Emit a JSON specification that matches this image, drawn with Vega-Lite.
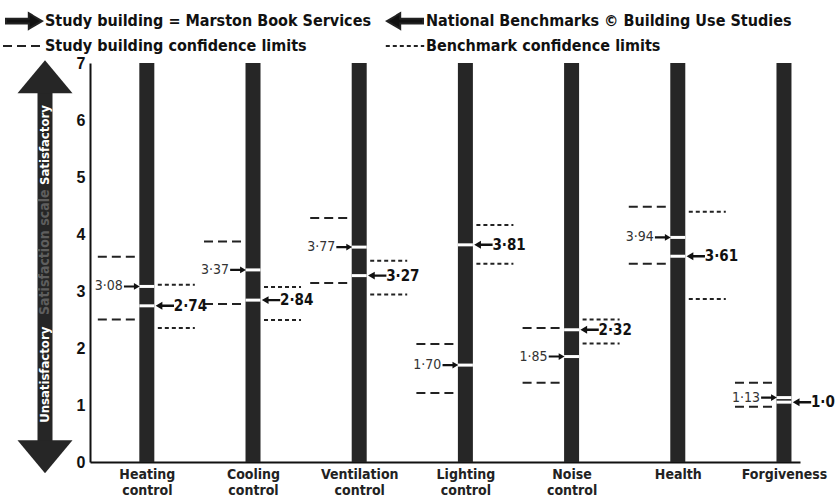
{
  "$schema": "https://vega.github.io/schema/vega-lite/v6.json",
  "background": "white",
  "padding": {"left": 11, "top": 8, "right": 0, "bottom": 0},
  "bounds": "flush",
  "spacing": 17,
  "config": {
    "view": {"stroke": null},
    "locale": {"number": {"decimal": "·", "thousands": ",", "grouping": [3], "currency": ["", ""]}}
  },
  "datasets": {
    "cats": [
      {"cat": "Heating control"}, {"cat": "Cooling control"}, {"cat": "Ventilation control"},
      {"cat": "Lighting control"}, {"cat": "Noise control"}, {"cat": "Health"}, {"cat": "Forgiveness"}
    ],
    "arrows": [
      {"cat": "Heating control", "series": "Study building = Marston Book Services", "value": 3.08},
      {"cat": "Heating control", "series": "National Benchmarks © Building Use Studies", "value": 2.74},
      {"cat": "Cooling control", "series": "Study building = Marston Book Services", "value": 3.37},
      {"cat": "Cooling control", "series": "National Benchmarks © Building Use Studies", "value": 2.84},
      {"cat": "Ventilation control", "series": "Study building = Marston Book Services", "value": 3.77},
      {"cat": "Ventilation control", "series": "National Benchmarks © Building Use Studies", "value": 3.27},
      {"cat": "Lighting control", "series": "Study building = Marston Book Services", "value": 1.70},
      {"cat": "Lighting control", "series": "National Benchmarks © Building Use Studies", "value": 3.81},
      {"cat": "Noise control", "series": "Study building = Marston Book Services", "value": 1.85},
      {"cat": "Noise control", "series": "National Benchmarks © Building Use Studies", "value": 2.32},
      {"cat": "Health", "series": "Study building = Marston Book Services", "value": 3.94},
      {"cat": "Health", "series": "National Benchmarks © Building Use Studies", "value": 3.61},
      {"cat": "Forgiveness", "series": "Study building = Marston Book Services", "value": 1.13},
      {"cat": "Forgiveness", "series": "National Benchmarks © Building Use Studies", "value": 1.05}
    ],
    "limits": [
      {"cat": "Heating control", "series": "Study building confidence limits", "value": 3.60},
      {"cat": "Heating control", "series": "Study building confidence limits", "value": 2.50},
      {"cat": "Heating control", "series": "Benchmark confidence limits", "value": 3.11},
      {"cat": "Heating control", "series": "Benchmark confidence limits", "value": 2.35},
      {"cat": "Cooling control", "series": "Study building confidence limits", "value": 3.87},
      {"cat": "Cooling control", "series": "Study building confidence limits", "value": 2.77},
      {"cat": "Cooling control", "series": "Benchmark confidence limits", "value": 3.07},
      {"cat": "Cooling control", "series": "Benchmark confidence limits", "value": 2.49},
      {"cat": "Ventilation control", "series": "Study building confidence limits", "value": 4.28},
      {"cat": "Ventilation control", "series": "Study building confidence limits", "value": 3.14},
      {"cat": "Ventilation control", "series": "Benchmark confidence limits", "value": 3.53},
      {"cat": "Ventilation control", "series": "Benchmark confidence limits", "value": 2.94},
      {"cat": "Lighting control", "series": "Study building confidence limits", "value": 2.07},
      {"cat": "Lighting control", "series": "Study building confidence limits", "value": 1.21},
      {"cat": "Lighting control", "series": "Benchmark confidence limits", "value": 4.16},
      {"cat": "Lighting control", "series": "Benchmark confidence limits", "value": 3.48},
      {"cat": "Noise control", "series": "Study building confidence limits", "value": 2.35},
      {"cat": "Noise control", "series": "Study building confidence limits", "value": 1.39},
      {"cat": "Noise control", "series": "Benchmark confidence limits", "value": 2.50},
      {"cat": "Noise control", "series": "Benchmark confidence limits", "value": 2.08},
      {"cat": "Health", "series": "Study building confidence limits", "value": 4.48},
      {"cat": "Health", "series": "Study building confidence limits", "value": 3.48},
      {"cat": "Health", "series": "Benchmark confidence limits", "value": 4.39},
      {"cat": "Health", "series": "Benchmark confidence limits", "value": 2.86},
      {"cat": "Forgiveness", "series": "Study building confidence limits", "value": 1.39},
      {"cat": "Forgiveness", "series": "Study building confidence limits", "value": 0.97}
    ]
  },
  "hconcat": [
    {
      "width": 56,
      "height": 399,
      "data": {"values": [{}]},
      "layer": [
        {
          "mark": {"type": "rule", "strokeWidth": 15, "color": "#262626"},
          "encoding": {
            "x": {"datum": 0, "type": "quantitative", "scale": {"domain": [-1, 1]}, "axis": null},
            "y": {"datum": 0.25, "type": "quantitative", "scale": {"domain": [0, 7], "nice": false, "zero": false}, "axis": null},
            "y2": {"datum": 6.6}
          }
        },
        {
          "mark": {"type": "point", "filled": true, "color": "#262626", "opacity": 1, "size": 3025, "shape": "M-1,0.6L0,-0.6L1,0.6Z"},
          "encoding": {
            "x": {"datum": 0, "type": "quantitative"},
            "y": {"datum": 6.76, "type": "quantitative"}
          }
        },
        {
          "mark": {"type": "point", "filled": true, "color": "#262626", "opacity": 1, "size": 3025, "shape": "M-1,-0.6L0,0.6L1,-0.6Z"},
          "encoding": {
            "x": {"datum": 0, "type": "quantitative"},
            "y": {"datum": 0.09, "type": "quantitative"}
          }
        },
        {
          "mark": {"type": "text", "angle": 270, "color": "white", "font": "Liberation Sans Narrow, DejaVu Sans Condensed, Roboto Condensed, sans-serif", "fontWeight": "bold", "fontSize": 13, "baseline": "middle", "align": "center"},
          "encoding": {
            "x": {"datum": 0, "type": "quantitative"},
            "y": {"datum": 5.56, "type": "quantitative"},
            "text": {"value": "Satisfactory"}
          }
        },
        {
          "mark": {"type": "text", "angle": 270, "color": "#5e5e5e", "font": "Liberation Sans Narrow, DejaVu Sans Condensed, Roboto Condensed, sans-serif", "fontWeight": "bold", "fontSize": 14, "baseline": "middle", "align": "center"},
          "encoding": {
            "x": {"datum": 0, "type": "quantitative"},
            "y": {"datum": 3.68, "type": "quantitative"},
            "text": {"value": "Satisfaction scale"}
          }
        },
        {
          "mark": {"type": "text", "angle": 270, "color": "white", "font": "Liberation Sans Narrow, DejaVu Sans Condensed, Roboto Condensed, sans-serif", "fontWeight": "bold", "fontSize": 13, "baseline": "middle", "align": "center"},
          "encoding": {
            "x": {"datum": 0, "type": "quantitative"},
            "y": {"datum": 1.53, "type": "quantitative"},
            "text": {"value": "Unsatisfactory"}
          }
        }
      ]
    },
    {
      "width": 710,
      "height": 399,
      "layer": [
        {
          "data": {"name": "cats"},
          "mark": {"type": "bar", "width": 15, "color": "#262626"},
          "encoding": {
            "x": {
              "field": "cat", "type": "nominal",
              "scale": {"type": "point", "domain": ["Heating control", "Cooling control", "Ventilation control", "Lighting control", "Noise control", "Health", "Forgiveness"], "padding": 0.343, "align": 0.78},
              "axis": {"title": null, "domainColor": "#111", "domainWidth": 2, "ticks": false, "labelAngle": 0, "labelFont": "Liberation Sans Narrow, DejaVu Sans Condensed, Roboto Condensed, sans-serif", "labelFontWeight": "bold", "labelFontSize": 14, "labelColor": "#222", "labelPadding": 5, "labelLineHeight": 16, "labelExpr": "split(datum.label, ' ')"}
            },
            "y": {
              "datum": 0, "type": "quantitative",
              "scale": {"domain": [0, 7], "nice": false, "zero": false},
              "axis": {"title": null, "values": [0, 1, 2, 3, 4, 5, 6, 7], "format": "d", "ticks": false, "grid": false, "domainColor": "#111", "domainWidth": 2, "labelFont": "Liberation Sans, Arial, sans-serif", "labelFontWeight": "bold", "labelFontSize": 16, "labelColor": "#111", "labelPadding": 5}
            },
            "y2": {"datum": 7}
          }
        },
        {
          "data": {"name": "limits"},
          "transform": [{"filter": "datum.series == 'Study building confidence limits'"}],
          "mark": {"type": "rule", "strokeWidth": 2, "color": "#222", "xOffset": -49, "x2Offset": -8},
          "encoding": {
            "x": {"field": "cat", "type": "nominal"},
            "x2": {"field": "cat"},
            "y": {"field": "value", "type": "quantitative"},
            "strokeDash": {
              "field": "series", "type": "nominal",
              "scale": {"domain": ["Study building = Marston Book Services", "National Benchmarks © Building Use Studies", "Study building confidence limits", "Benchmark confidence limits"], "range": [[1, 0], [1, 0], [9, 5], [4, 3]]},
              "legend": {"title": null, "orient": "none", "legendX": -6, "legendY": -55, "columns": 2, "direction": "horizontal", "labelFont": "Liberation Sans Narrow, DejaVu Sans Condensed, Roboto Condensed, sans-serif", "labelFontWeight": "bold", "labelFontSize": 16, "labelColor": "#111", "symbolSize": 576, "symbolFillColor": "#111", "symbolStrokeColor": "#111", "symbolStrokeWidth": 2, "columnPadding": 10, "rowPadding": 0, "labelOffset": 8, "padding": 0, "labelLimit": 500}
            }
          }
        },
        {
          "data": {"name": "limits"},
          "transform": [{"filter": "datum.series == 'Benchmark confidence limits'"}],
          "mark": {"type": "rule", "strokeWidth": 2, "color": "#222", "xOffset": 11, "x2Offset": 48},
          "encoding": {
            "x": {"field": "cat", "type": "nominal"},
            "x2": {"field": "cat"},
            "y": {"field": "value", "type": "quantitative"},
            "strokeDash": {"field": "series", "type": "nominal"}
          }
        },
        {
          "data": {"name": "arrows"},
          "mark": {"type": "tick", "color": "white", "thickness": 3, "size": 15, "opacity": 1},
          "encoding": {
            "x": {"field": "cat", "type": "nominal"},
            "y": {"field": "value", "type": "quantitative"}
          }
        },
        {
          "data": {"name": "arrows"},
          "transform": [{"filter": "datum.series == 'Study building = Marston Book Services'"}],
          "mark": {"type": "point", "filled": true, "color": "#111", "opacity": 1, "size": 110, "xOffset": -15},
          "encoding": {
            "x": {"field": "cat", "type": "nominal"},
            "y": {"field": "value", "type": "quantitative"},
            "shape": {
              "field": "series", "type": "nominal",
              "scale": {"domain": ["Study building = Marston Book Services", "National Benchmarks © Building Use Studies", "Study building confidence limits", "Benchmark confidence limits"], "range": ["M-1.5,-0.2L0.4,-0.2L0.4,-0.65L1.5,0L0.4,0.65L0.4,0.2L-1.5,0.2Z", "M1.5,-0.2L-0.4,-0.2L-0.4,-0.65L-1.5,0L-0.4,0.65L-0.4,0.2L1.5,0.2Z", "M-1.75,0L1.75,0", "M-1.6,0L1.6,0"]},
              "legend": {"title": null, "orient": "none", "legendX": -6, "legendY": -55, "columns": 2, "direction": "horizontal", "labelFont": "Liberation Sans Narrow, DejaVu Sans Condensed, Roboto Condensed, sans-serif", "labelFontWeight": "bold", "labelFontSize": 16, "labelColor": "#111", "symbolSize": 576, "symbolFillColor": "#111", "symbolStrokeColor": "#111", "symbolStrokeWidth": 2, "columnPadding": 10, "rowPadding": 0, "labelOffset": 8, "padding": 0, "labelLimit": 500}
            }
          }
        },
        {
          "data": {"name": "arrows"},
          "transform": [{"filter": "datum.series == 'National Benchmarks © Building Use Studies'"}],
          "mark": {"type": "point", "filled": true, "color": "#111", "opacity": 1, "size": 150, "xOffset": 18},
          "encoding": {
            "x": {"field": "cat", "type": "nominal"},
            "y": {"field": "value", "type": "quantitative"},
            "shape": {"field": "series", "type": "nominal"}
          }
        },
        {
          "data": {"name": "arrows"},
          "transform": [{"filter": "datum.series == 'Study building = Marston Book Services'"}],
          "mark": {"type": "text", "align": "right", "baseline": "middle", "dx": -24, "font": "Liberation Sans Narrow, DejaVu Sans Condensed, Roboto Condensed, sans-serif", "fontSize": 14, "color": "#333"},
          "encoding": {
            "x": {"field": "cat", "type": "nominal"},
            "y": {"field": "value", "type": "quantitative"},
            "text": {"field": "value", "type": "quantitative", "format": ".2f"}
          }
        },
        {
          "data": {"name": "arrows"},
          "transform": [{"filter": "datum.series == 'National Benchmarks © Building Use Studies' && datum.cat != 'Forgiveness'"}],
          "mark": {"type": "text", "align": "left", "baseline": "middle", "dx": 27, "font": "Liberation Sans Narrow, DejaVu Sans Condensed, Roboto Condensed, sans-serif", "fontWeight": "bold", "fontSize": 15, "color": "#111"},
          "encoding": {
            "x": {"field": "cat", "type": "nominal"},
            "y": {"field": "value", "type": "quantitative"},
            "text": {"field": "value", "type": "quantitative", "format": ".2f"}
          }
        },
        {
          "data": {"name": "arrows"},
          "transform": [{"filter": "datum.series == 'National Benchmarks © Building Use Studies' && datum.cat == 'Forgiveness'"}],
          "mark": {"type": "text", "align": "left", "baseline": "middle", "dx": 27, "limit": 24, "ellipsis": "\u200b", "font": "Liberation Sans Narrow, DejaVu Sans Condensed, Roboto Condensed, sans-serif", "fontWeight": "bold", "fontSize": 15, "color": "#111"},
          "encoding": {
            "x": {"field": "cat", "type": "nominal"},
            "y": {"field": "value", "type": "quantitative"},
            "text": {"field": "value", "type": "quantitative", "format": ".2f"}
          }
        }
      ]
    }
  ]
}
